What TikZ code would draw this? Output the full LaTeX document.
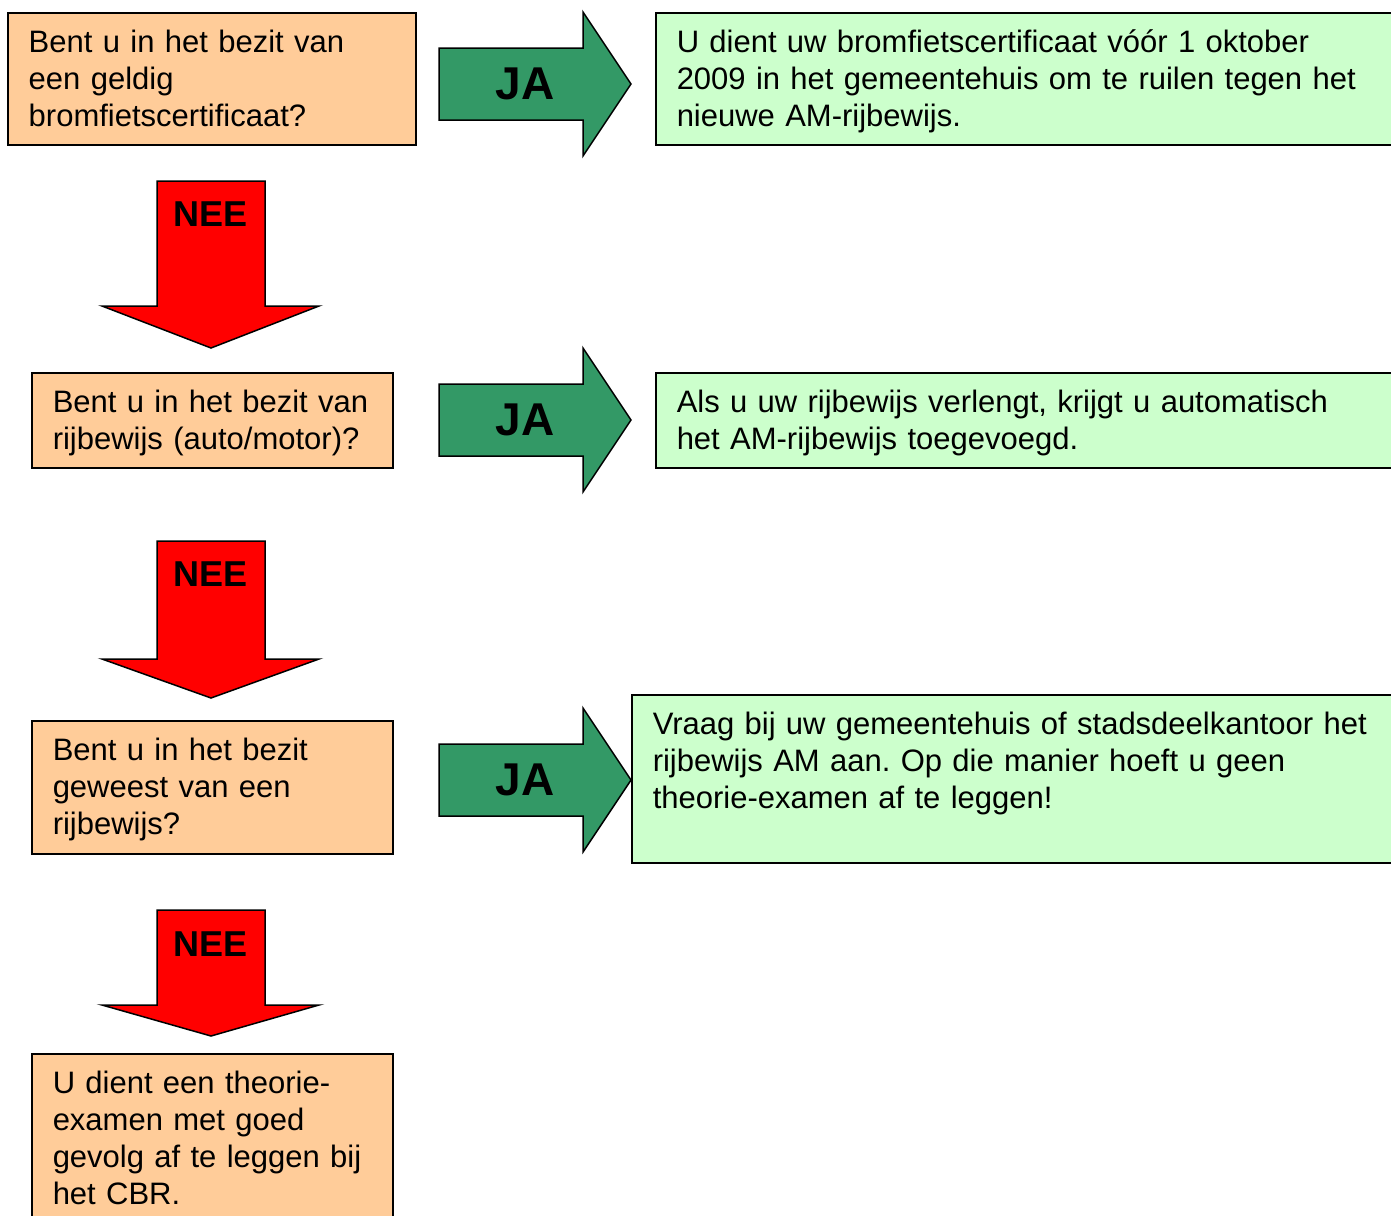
\documentclass[tikz,border=0pt]{standalone}
\usepackage{fontspec}
\setmainfont{Liberation Sans}
\frenchspacing
\definecolor{vraagkleur}{HTML}{FFCC99}
\definecolor{antwoordkleur}{HTML}{CCFFCC}
\definecolor{jakleur}{HTML}{339966}
\definecolor{neekleur}{HTML}{FF0000}

\begin{document}
\begin{tikzpicture}[x=0.5pt,y=-0.5pt,line width=0.75pt,
  vraag/.style={draw,fill=vraagkleur,anchor=north west,align=left,inner xsep=10.5pt,inner ysep=0pt,text height=20pt,font=\fontsize{15.5}{18.5}\selectfont},
  antwoord/.style={vraag,fill=antwoordkleur},
  japijl/.style={draw,fill=jakleur},
  neepijl/.style={draw,fill=neekleur},
  jatekst/.style={inner sep=0pt,font=\fontsize{23}{27}\selectfont\bfseries},
  neetekst/.style={inner sep=0pt,font=\fontsize{18}{21}\selectfont\bfseries}]
\useasboundingbox (0,0) rectangle (1391,1215);
\clip (0,0) rectangle (1391,1215);

\filldraw[japijl] (439,48) -- (583,48) -- (583,12) -- (631,84) -- (583,156) -- (583,120) -- (439,120) -- cycle;
\filldraw[japijl] (439,384) -- (583,384) -- (583,348) -- (631,420) -- (583,492) -- (583,456) -- (439,456) -- cycle;
\filldraw[japijl] (439,744) -- (583,744) -- (583,708) -- (631,780) -- (583,852) -- (583,816) -- (439,816) -- cycle;

\filldraw[neepijl] (157,181) -- (265,181) -- (265,306) -- (319,306) -- (211,348) -- (102,306) -- (157,306) -- cycle;
\filldraw[neepijl] (157,541) -- (265,541) -- (265,659) -- (319,659) -- (211,698) -- (102,659) -- (157,659) -- cycle;
\filldraw[neepijl] (157,910) -- (265,910) -- (265,1005) -- (319,1005) -- (211,1036) -- (102,1005) -- (157,1005) -- cycle;

\node[vraag,text width=183pt,text depth=46pt] (v1) at (7,12) {Bent u in het bezit van\\een geldig\\bromfietscertificaat?};
\node[vraag,text width=159.5pt,text depth=27.5pt] (v2) at (31,372) {Bent u in het bezit van\\rijbewijs (auto/motor)?};
\node[vraag,text width=159.5pt,text depth=46.5pt] (v3) at (31,720) {Bent u in het bezit\\geweest van een\\rijbewijs?};
\node[vraag,text width=159.5pt,text depth=70pt] (v4) at (31,1053) {U dient een theorie-\\examen met goed\\gevolg af te leggen bij\\het CBR.};

\node[antwoord,text width=380pt,text depth=46pt] (a1) at (655,12) {U dient uw bromfietscertificaat vóór 1 oktober\\2009 in het gemeentehuis om te ruilen tegen het\\nieuwe AM-rijbewijs.};
\node[antwoord,text width=380pt,text depth=27.5pt] (a2) at (655,372) {Als u uw rijbewijs verlengt, krijgt u automatisch\\het AM-rijbewijs toegevoegd.};
\node[antwoord,text width=380pt,text depth=64pt] (a3) at (631,694) {Vraag bij uw gemeentehuis of stadsdeelkantoor het\\rijbewijs AM aan. Op die manier hoeft u geen\\theorie-examen af te leggen!};

\node[jatekst] (ja1) at (525,84) {JA};
\node[jatekst] (ja2) at (525,420) {JA};
\node[jatekst] (ja3) at (525,780) {JA};
\node[neetekst] (nee1) at (211,214) {NEE};
\node[neetekst] (nee2) at (211,574) {NEE};
\node[neetekst] (nee3) at (211,944) {NEE};
\end{tikzpicture}
\end{document}
